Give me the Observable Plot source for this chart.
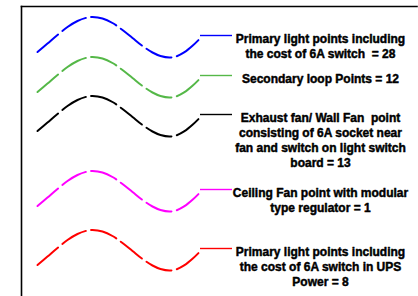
<!DOCTYPE html>
<html>
<head>
<meta charset="utf-8">
<script src="https://cdn.jsdelivr.net/npm/d3@7"></script>
<script src="https://cdn.jsdelivr.net/npm/@observablehq/plot@0.6"></script>
<style>
  html, body { margin: 0; padding: 0; background: #fff; }
  svg { display: block; }
</style>
</head>
<body>
<div id="chart"></div>
<script>
// Legend rows (top to bottom)
const labels = [
  "Primary light points including\nthe cost of 6A switch  = 28",
  "Secondary loop Points = 12",
  "Exhaust fan/ Wall Fan  point\nconsisting of 6A socket near\nfan and switch on light switch\nboard = 13",
  "Ceiling Fan point with modular\ntype regulator = 1",
  "Primary light points including\nthe cost of 6A switch in UPS\nPower = 8"
];
const colors = ["#0000ff", "#55b848", "#000000", "#ff00ff", "#ff0000"];
const levels = [35, 75, 114, 189, 248];

// Wave shape (x, offset from row level)
const waveX  = [37, 47, 57, 67, 77, 87, 92, 102, 112, 122, 132, 142, 152, 160, 169, 176, 184, 192, 200];
const waveDY = [16.5, 8, -0.5, -8.5, -14.5, -18, -18.5, -17, -12.5, -5.5, 2.5, 10.5, 17, 20.5, 22, 20.8, 16.7, 10.3, 2.5];

const rows = labels.map((label, i) => ({label, color: colors[i], level: levels[i]}));

const marks = [
  Plot.frame({anchor: "top", stroke: "#000", strokeWidth: 1.6}),
  Plot.frame({anchor: "left", stroke: "#000", strokeWidth: 1.6})
];

rows.forEach((r) => {
  const pts = waveX.map((x, j) => ({x, y: r.level + waveDY[j]}));
  marks.push(Plot.line(pts, {
    x: "x", y: "y", stroke: r.color, strokeWidth: 2,
    strokeDasharray: "27,5.5", curve: "catmull-rom"
  }));
  marks.push(Plot.ruleY([r], {
    y: "level", x1: 200, x2: 232, stroke: r.color, strokeWidth: 1.4
  }));
});

marks.push(Plot.text(rows, {
  x: 320, y: "level", text: "label",
  fill: "#000", stroke: "#000", strokeWidth: 0.45,
  fontWeight: "bold", fontSize: 12,
  lineAnchor: "top", lineHeight: 1.25, dy: -3, textAnchor: "middle"
}));

const chart = Plot.plot({
  width: 418,
  height: 296,
  marginLeft: 21,
  marginRight: 1.5,
  marginTop: 6,
  marginBottom: 0,
  x: {domain: [21, 416.5], axis: null},
  y: {domain: [6, 296], reverse: true, axis: null},
  style: {fontFamily: "'Liberation Sans', Arial, sans-serif", background: "#fff"},
  marks
});
document.getElementById("chart").append(chart);
</script>
</body>
</html>
